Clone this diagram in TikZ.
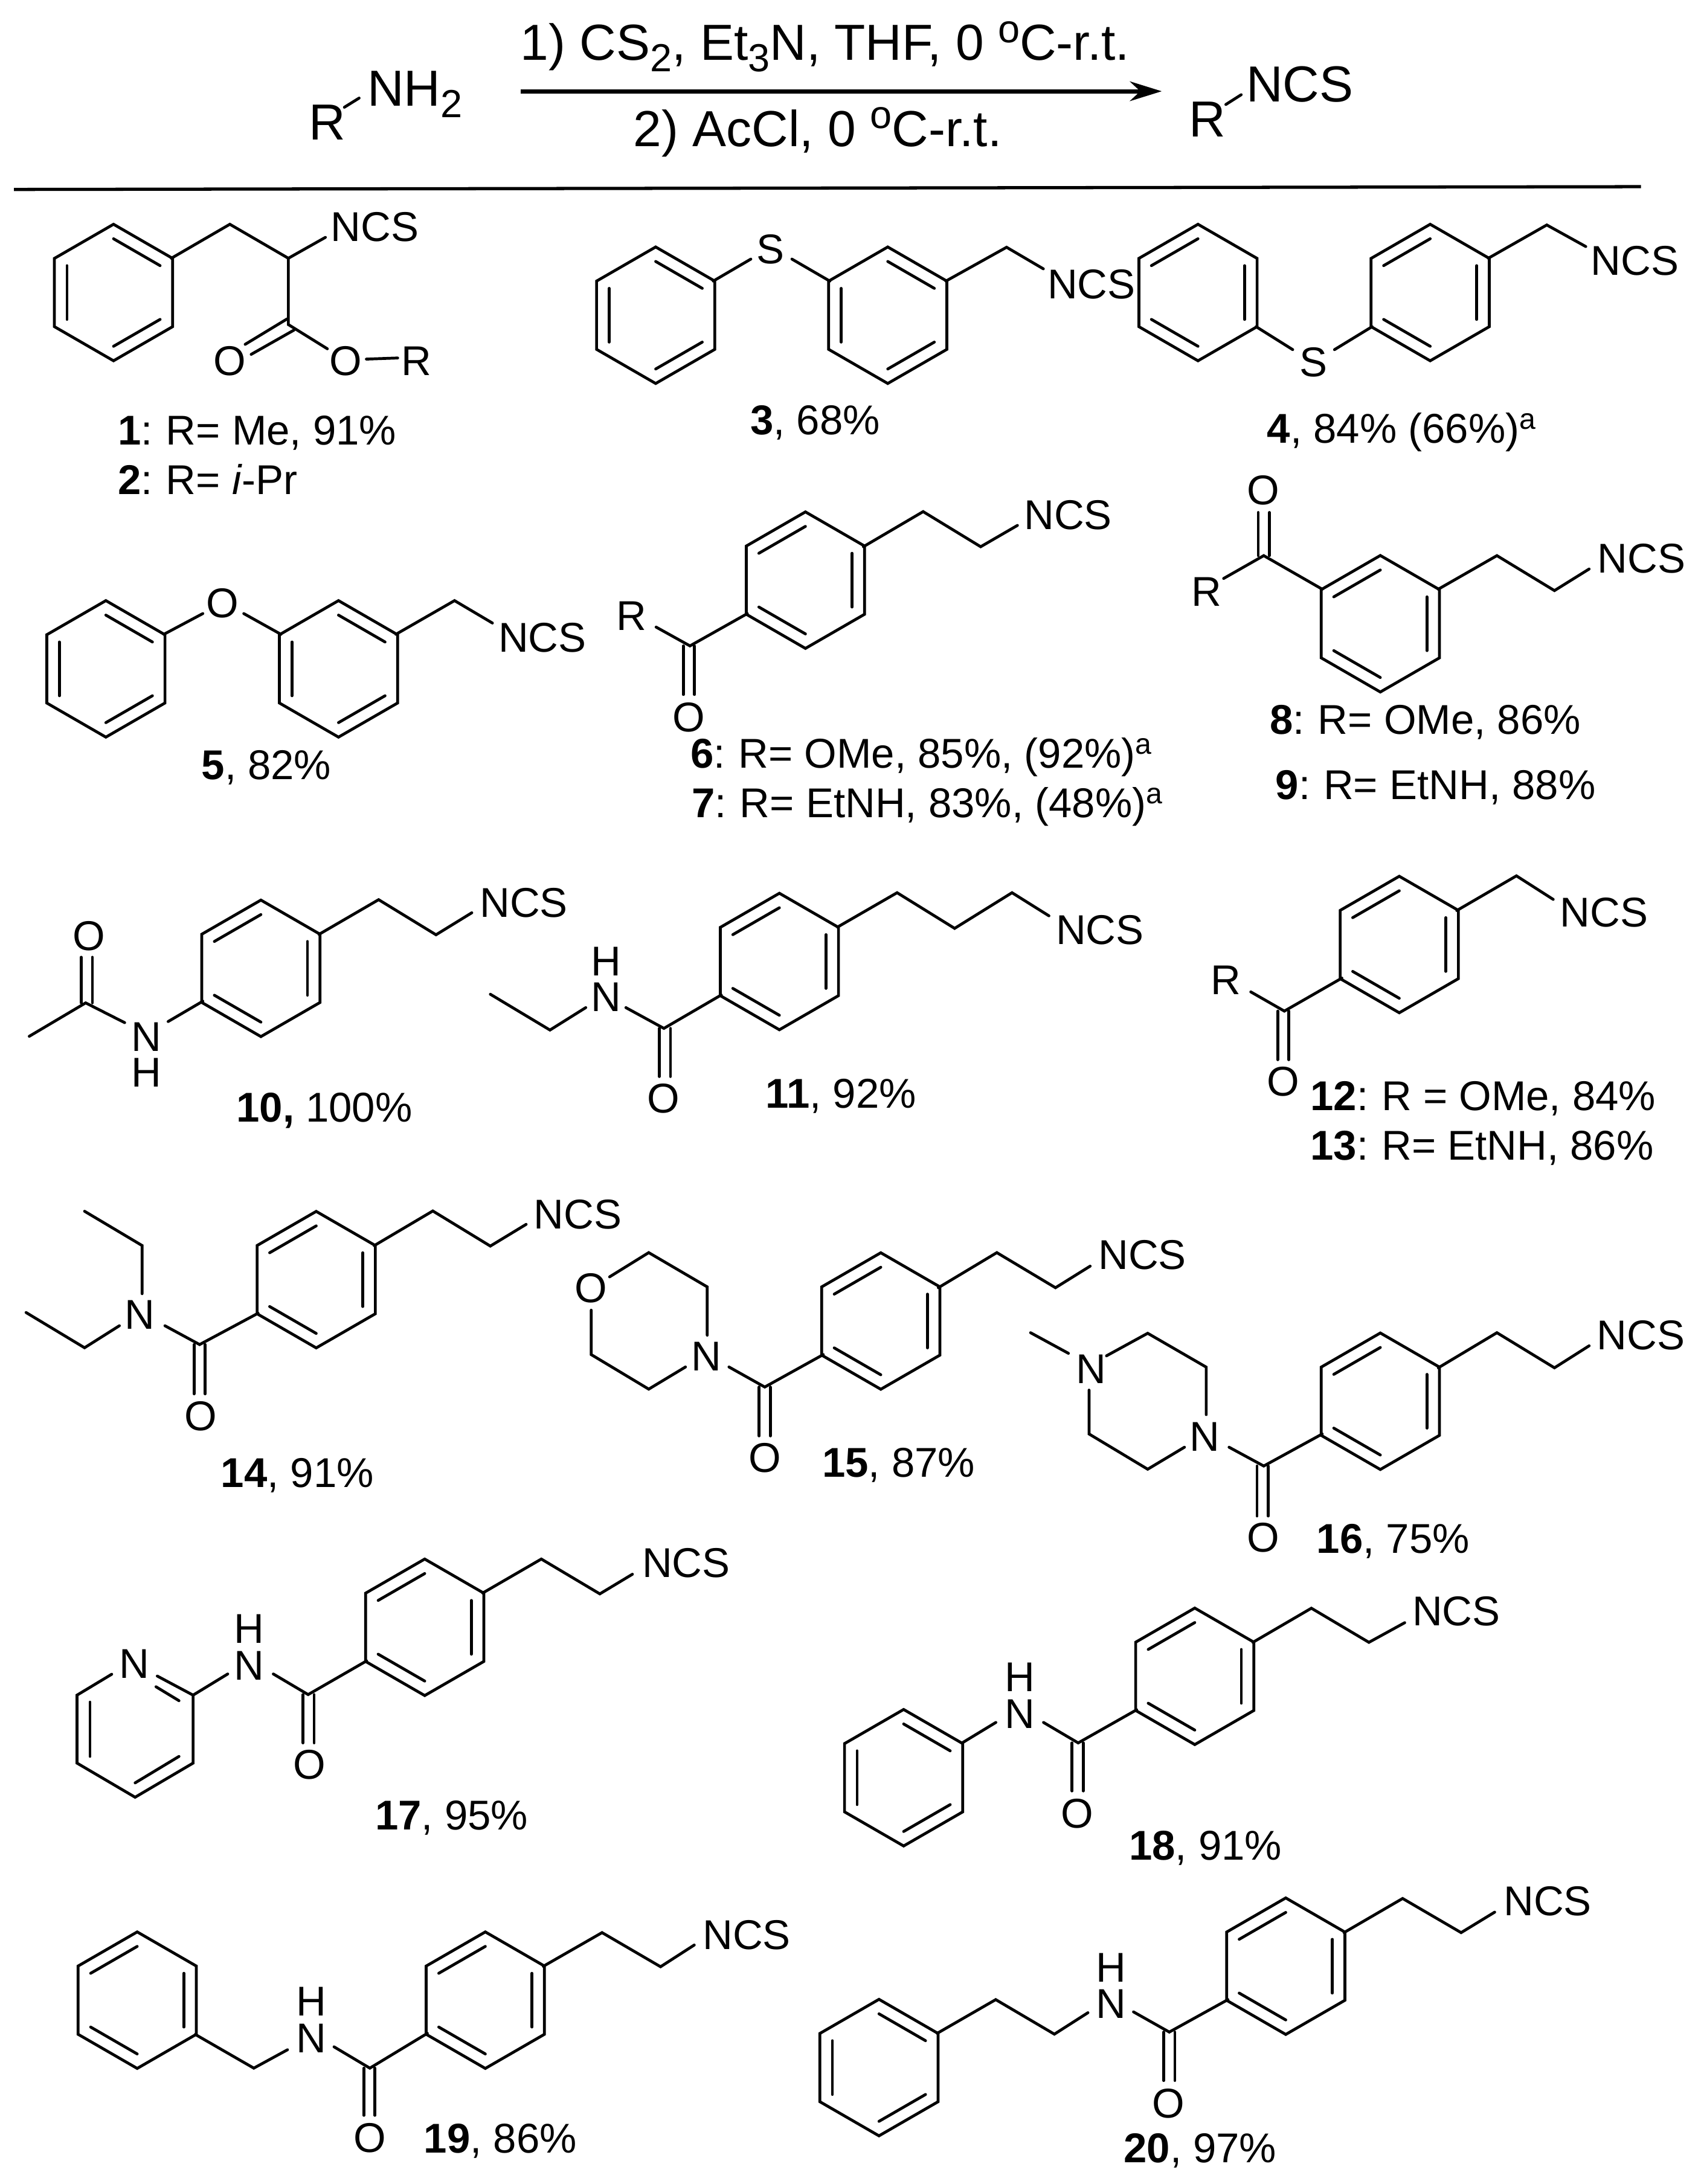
\documentclass[tikz,border=0pt]{standalone}
\usepackage{fontspec}
\setmainfont{Liberation Sans}
\usetikzlibrary{arrows.meta}
\tikzset{
  bond/.style={line width=.58pt, line cap=round},
  atom/.style={inner sep=0, font=\fontsize{8.5}{10}\selectfont},
  yield/.style={inner sep=0, anchor=base west, font=\fontsize{8.5}{10}\selectfont},
  head/.style={inner sep=0, anchor=base west, font=\fontsize{10.35}{12}\selectfont}
}
\newcommand{\ringat}[3]{
  \begin{scope}[shift={(#1,#2)}]
    \draw[bond] (-90:49)--(-30:49)--(30:49)--(90:49)--(150:49)--(210:49)--cycle;
    \foreach \a in {#3} \draw[bond] (\a:38.6)--(\a+60:38.6);
  \end{scope}
}
\newcommand{\ringA}[2]{\ringat{#1}{#2}{-90,150,30}}
\newcommand{\ringB}[2]{\ringat{#1}{#2}{210,-30,90}}
% vertical C=O
\newcommand{\dbond}[3]{
  \draw[bond] (#1-4,#2)--(#1-4,#3);
  \draw[bond] (#1+4,#2)--(#1+4,#3);
}
% header sub- and superscripts
\newcommand{\hsub}[1]{\raisebox{-2.4pt}{\fontsize{8}{9}\selectfont #1}}
\newcommand{\hsup}[1]{\raisebox{3.6pt}{\fontsize{8}{9}\selectfont #1}}
% compound number before R=
\newcommand{\cpd}[1]{\textbf{#1}:\hspace{.32em}}
\begin{document}
\begin{tikzpicture}[x=.01cm,y=-.01cm]
\useasboundingbox (0,0) rectangle (1221,1568);

% reaction
\node[head] (top) at (373,43) {1) CS\hsub{2}, Et\hsub{3}N, THF, 0 \hsup{o}C-r.t.};
\node[head] (bot) at (454,105) {2) AcCl, 0 \hsup{o}C-r.t.};
\node[head] (r1) at (221,100.5) {R};
\node[head] (nh) at (263,76) {NH\hsub{2}};
\node[head] (r2) at (853,98) {R};
\node[head] (ncs0) at (894,73) {NCS};
\draw[bond] (247.2,77)--(257.8,70.4);
\draw[bond] (880,75)--(891,68);
\coordinate (arrowl) at (374,65.5);
\coordinate (arrowr) at (834,65.5);
\draw[line width=.85pt,-{Stealth[length=6.5pt,width=4pt]}] (arrowl)--(arrowr);
\coordinate (rulel) at (10,136);
\coordinate (ruler) at (1178,134);
\draw[line width=.65pt] (rulel)--(ruler);

% 1, 2
\ringA{81.5}{210}
\draw[bond] (123,185.4)--(165,161)--(207,185.4)--(233.6,170.4);
\draw[bond] (207,185.4)--(207,233)--(235,250.4);
\draw[bond] (206,229)--(176,247.2);
\draw[bond] (211,237)--(180.3,254.4);
\draw[bond] (263,257.8)--(285.5,257);
\node[atom] (ncs1) at (269,163) {NCS};
\node[atom] (o1a) at (164.8,259) {O};
\node[atom] (o1b) at (248,259) {O};
\node[atom] (r1a) at (299,259) {R};
\node[yield] (cap1) at (84,319.2) {\cpd{1}R= Me, 91\%};
\node[yield] (cap2) at (84,354.8) {\cpd{2}R= \textit{i}-Pr};

% 3
\ringA{470.7}{226.3}
\ringA{637.3}{226.3}
\draw[bond] (512,201.8)--(539,186);
\draw[bond] (568.5,186)--(595.7,201.8);
\draw[bond] (679,201.8)--(722.6,177.5)--(749,193);
\node[atom] (s3) at (553,179) {S};
\node[atom] (ncs3) at (783.5,204) {NCS};
\node[yield] (cap3) at (538,312) {\textbf{3}, 68\%};

% 4
\ringB{860}{210}
\ringB{1026.7}{210}
\draw[bond] (901.7,234.5)--(928,251);
\draw[bond] (958,251)--(985,234.5);
\draw[bond] (1068.4,185.4)--(1110.4,161.5)--(1138.4,177);
\node[atom] (s4) at (943,260) {S};
\node[atom] (ncs4) at (1173.5,187) {NCS};
\node[yield] (cap4) at (909,318) {\textbf{4}, 84\% (66\%)\textsuperscript{a}};

% 5
\ringA{76}{480.2}
\ringA{243}{480.2}
\draw[bond] (117.6,455.4)--(145.6,440.5);
\draw[bond] (175,440.5)--(201.7,455.4);
\draw[bond] (284.2,455.4)--(326.3,431.2)--(353.5,447.3);
\node[atom] (o5) at (159.5,433) {O};
\node[atom] (ncs5) at (389.3,458) {NCS};
\node[yield] (cap5) at (144,559.6) {\textbf{5}, 82\%};

% 6, 7
\ringB{578.2}{416.5}
\draw[bond] (619.8,392.5)--(662.7,367.3)--(704,392.5)--(730.4,377.2);
\draw[bond] (536.5,440.5)--(495.3,463.7)--(471,450.2);
\dbond{494.5}{463.7}{498.6}
\node[atom] (ncs6) at (766.7,369.8) {NCS};
\node[atom] (r6) at (453.5,442) {R};
\node[atom] (o6) at (494.4,515) {O};
\node[yield] (cap6) at (495,551.2) {\cpd{6}R= OMe, 85\%, (92\%)\textsuperscript{a}};
\node[yield] (cap7) at (496,586.7) {\cpd{7}R= EtNH, 83\%, (48\%)\textsuperscript{a}};

% 8, 9
\ringB{990.9}{447.8}
\draw[bond] (949.2,423)--(907.2,398.9)--(878.4,415.3);
\dbond{907.2}{398.9}{367.9}
\draw[bond] (1032.5,423)--(1074.6,398.9)--(1115.9,424)--(1140.8,408.5);
\node[atom] (r8) at (866,425) {R};
\node[atom] (o8) at (906.7,352) {O};
\node[atom] (ncs8) at (1178.5,401) {NCS};
\node[yield] (cap8) at (911,527) {\cpd{8}R= OMe, 86\%};
\node[yield] (cap9) at (915,574) {\cpd{9}R= EtNH, 88\%};

% 10
\ringB{187.3}{695.2}
\draw[bond] (229,670.8)--(271.8,645.9)--(313,671.1)--(338.7,655.3);
\draw[bond] (145.6,718.8)--(120.7,733.4);
\draw[bond] (89.5,734.2)--(61.5,720)--(21,744);
\dbond{62.3}{720}{687.2}
\node[atom] (n10) at (105,744.6) {N};
\node[atom] (h10) at (105,770) {H};
\node[atom] (o10) at (64,672) {O};
\node[atom] (ncs10) at (376,648) {NCS};
\node[yield] (cap10) at (169,805.6) {\textbf{10,} 100\%};

% 11
\ringB{559.5}{690.3}
\draw[bond] (601.2,665.6)--(644,640.9)--(685.3,666.5)--(726.5,640.9)--(753,657.5);
\draw[bond] (517.8,714.3)--(476.6,738.3)--(449.3,723.4);
\draw[bond] (420.5,723.4)--(394.8,739.5)--(352,713.8);
\dbond{477.3}{738.3}{772.9}
\node[atom] (n11) at (435.3,715.7) {N};
\node[atom] (h11) at (435.3,690.4) {H};
\node[atom] (o11) at (476.2,788.6) {O};
\node[atom] (ncs11) at (789.6,667.5) {NCS};
\node[yield] (cap11) at (549,795.3) {\textbf{11}, 92\%};

% 12, 13
\ringB{1004.5}{678.1}
\draw[bond] (1045.8,653.7)--(1088.6,628.8)--(1115,645.7);
\draw[bond] (963.3,702.2)--(922,725.9)--(897.9,712.1);
\dbond{921.2}{725.9}{760.8}
\node[atom] (r12) at (880,703.6) {R};
\node[atom] (o12) at (921,776.4) {O};
\node[atom] (ncs12) at (1151.6,655) {NCS};
\node[yield] (cap12) at (940,797) {\cpd{12}R = OMe, 84\%};
\node[yield] (cap13) at (940,832.6) {\cpd{13}R= EtNH, 86\%};

% 14
\ringB{227}{918.7}
\draw[bond] (268.6,894.3)--(310.7,869.4)--(352,894.6)--(377.7,879);
\draw[bond] (185.3,942.8)--(143.3,965.3)--(118.4,951.8);
\draw[bond] (102,928.8)--(102,894.2)--(60.7,869.6);
\draw[bond] (85.7,951.8)--(60.7,967.6)--(18.7,942.3);
\dbond{143.3}{965.3}{1000.7}
\node[atom] (n14) at (100.5,944) {N};
\node[atom] (o14) at (144,1016.8) {O};
\node[atom] (ncs14) at (414.7,872) {NCS};
\node[yield] (cap14) at (158,1068) {\textbf{14}, 91\%};

% 15
\ringB{632.3}{948.4}
\draw[bond] (673.6,924.5)--(715.6,899.3)--(757.7,924.5)--(782.6,909);
\draw[bond] (591,972.5)--(549,995.8)--(523.3,981.4);
\draw[bond] (507.7,958.6)--(507.7,923.9)--(465.7,899.3)--(437.6,916.7);
\draw[bond] (424.4,940.6)--(424.4,972.5)--(465.7,997.3)--(492.1,981.4);
\dbond{549}{995.8}{1030.9}
\node[atom] (n15) at (507,974) {N};
\node[atom] (oa15) at (424.4,925) {O};
\node[atom] (ob15) at (549,1046.5) {O};
\node[atom] (ncs15) at (820,901) {NCS};
\node[yield] (cap15) at (589.5,1060.6) {\textbf{15}, 87\%};

% 16
\ringB{990.9}{1006}
\draw[bond] (1032.5,982)--(1074.6,956.8)--(1115.9,982)--(1140.8,966.2);
\draw[bond] (949.2,1029.5)--(907.2,1052.5)--(882.3,1039);
\draw[bond] (865.9,1015.6)--(865.9,981.5)--(823.9,957.2)--(794.3,973.4);
\draw[bond] (767,971.6)--(739.8,956.8);
\draw[bond] (781.8,998)--(781.8,1029.5)--(823.9,1054.8)--(850.3,1039);
\dbond{906.4}{1052.5}{1088.4}
\node[atom] (na16) at (865,1031.5) {N};
\node[atom] (nb16) at (783.4,983) {N};
\node[atom] (o16) at (906.7,1104) {O};
\node[atom] (ncs16) at (1178,958.5) {NCS};
\node[yield] (cap16) at (944.6,1114.9) {\textbf{16}, 75\%};

% 17
\ringB{304.9}{1168.3}
\draw[bond] (346.5,1143.7)--(388.6,1119.3)--(430.6,1144.3)--(454,1130.2);
\draw[bond] (263.2,1192.4)--(221.2,1216.6)--(196.2,1201.8);
\draw[bond] (163.5,1201.8)--(138.6,1217);
\draw[bond] (80.2,1202)--(55.3,1217)--(55.3,1265.8)--(97,1290.3)--(138.6,1265.8)--(138.6,1217)--(112.9,1203.3);
\draw[bond] (128.5,1221)--(112,1211);
\draw[bond] (64.6,1222)--(64.6,1261);
\draw[bond] (128.5,1261)--(97,1280);
\dbond{221.5}{1216.6}{1251.3}
\node[atom] (npy17) at (96.6,1194.5) {N};
\node[atom] (n17) at (179,1196) {N};
\node[atom] (h17) at (179,1169.6) {H};
\node[atom] (o17) at (222,1267) {O};
\node[atom] (ncs17) at (492.5,1122) {NCS};
\node[yield] (cap17) at (268.7,1313.8) {\textbf{17}, 95\%};

% 18
\ringB{857.7}{1203.5}
\ringA{648.7}{1276.3}
\draw[bond] (899.4,1179.1)--(941.4,1154.6)--(982.7,1179.1)--(1008.4,1165);
\draw[bond] (816,1227.5)--(774,1251.3)--(749.1,1236.6);
\draw[bond] (714.9,1236.6)--(690.7,1251.3);
\dbond{773.6}{1251.3}{1285.8}
\node[atom] (n18) at (732,1230.6) {N};
\node[atom] (h18) at (732,1204) {H};
\node[atom] (o18) at (773.2,1302) {O};
\node[atom] (ncs18) at (1045.4,1156.6) {NCS};
\node[yield] (cap18) at (809.8,1335.4) {\textbf{18}, 91\%};

% 19
\ringB{348.4}{1436}
\ringB{98.5}{1436}
\draw[bond] (390,1411.7)--(432.2,1387.5)--(474.2,1412)--(498.4,1396.4);
\draw[bond] (306.8,1459.8)--(265.5,1484.8)--(239.8,1469.5);
\draw[bond] (206.4,1471.6)--(182.2,1484.8)--(140.2,1460.6);
\dbond{265.2}{1484.8}{1518.7}
\node[atom] (n19) at (223.5,1463.5) {N};
\node[atom] (h19) at (223.5,1437) {H};
\node[atom] (o19) at (265.5,1535) {O};
\node[atom] (ncs19) at (536,1389.3) {NCS};
\node[yield] (cap19) at (303.7,1545.8) {\textbf{19}, 86\%};

% 20
\ringB{923}{1411.6}
\ringA{631}{1484.4}
\draw[bond] (964.8,1387.5)--(1006.9,1363)--(1048.9,1387.5)--(1073,1372.8);
\draw[bond] (881.5,1435.6)--(839.4,1458.9)--(813.7,1444.4);
\draw[bond] (781,1445)--(756.9,1460.4)--(714.8,1435.6)--(672.8,1459.8);
\dbond{839.4}{1458.9}{1493.7}
\node[atom] (n20) at (797.5,1438.5) {N};
\node[atom] (h20) at (797.5,1412.5) {H};
\node[atom] (o20) at (838.7,1510) {O};
\node[atom] (ncs20) at (1111,1365) {NCS};
\node[yield] (cap20) at (806,1552.6) {\textbf{20}, 97\%};
\end{tikzpicture}
\end{document}
